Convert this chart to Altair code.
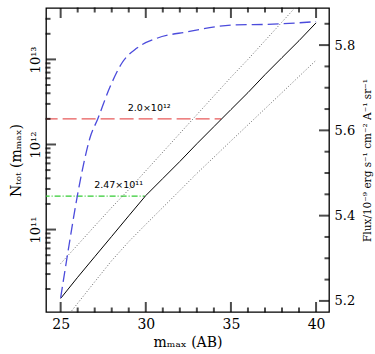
import altair as alt
import pandas as pd

# ---------------- data ----------------
x_black = [25, 26, 27, 28, 29, 30, 31, 32, 33, 34, 35, 36, 37, 38, 39, 40]
n_black = [1.55e10, 2.75e10, 4.79e10, 8.32e10, 1.45e11, 2.51e11, 3.98e11, 6.31e11,
           1.02e12, 1.62e12, 2.57e12, 4.07e12, 6.61e12, 1.05e13, 1.66e13, 2.69e13]

x_upper = [25, 26, 27, 28, 29, 30, 31, 32, 33, 34, 35, 36, 37, 38, 39]
n_upper = [3.98e10, 6.61e10, 1.10e11, 1.82e11, 2.95e11, 4.90e11, 8.13e11, 1.35e12,
           2.24e12, 3.72e12, 6.17e12, 1.00e13, 1.66e13, 2.75e13, 4.57e13]

x_lower = [25, 26, 27, 28, 29, 30, 31, 32, 33, 34, 35, 36, 37, 38, 39, 40]
n_lower = [7.6e9, 1.36e10, 2.43e10, 4.32e10, 7.21e10, 1.15e11, 1.82e11, 2.88e11,
           4.57e11, 7.08e11, 1.10e12, 1.70e12, 2.63e12, 4.07e12, 6.31e12, 9.77e12]

x_red = [24.0, 34.43]
n_red = [2.0e12, 2.0e12]
x_green = [24.0, 29.94]
n_green = [2.47e11, 2.47e11]

x_flux = [25.0, 25.49, 26.01, 26.37, 26.72, 27.19, 27.89, 28.60, 29.48, 30.65,
          32.42, 35.12, 37.47, 40.0]
flux = [5.207, 5.330, 5.453, 5.525, 5.582, 5.628, 5.701, 5.758, 5.793, 5.816,
        5.831, 5.847, 5.849, 5.855]

label_text = ["2.0×10¹²", "2.47×10¹¹"]
label_x = [30.2, 28.4]
label_n = [2.7e12, 3.3e11]

x_major = [25, 30, 35, 40]
x_minor = [26, 27, 28, 29, 31, 32, 33, 34, 36, 37, 38, 39]
n_major = [1e11, 1e12, 1e13]
n_minor = [2e10, 3e10, 4e10, 5e10, 6e10, 7e10, 8e10, 9e10,
           2e11, 3e11, 4e11, 5e11, 6e11, 7e11, 8e11, 9e11,
           2e12, 3e12, 4e12, 5e12, 6e12, 7e12, 8e12, 9e12,
           2e13, 3e13]
f_major = [5.2, 5.4, 5.6, 5.8]
f_minor = [5.25, 5.3, 5.35, 5.45, 5.5, 5.55, 5.65, 5.7, 5.75, 5.85]

X_DOM = [24.14, 40.76]
N_DOM = [1.074e10, 4.02e13]
F_DOM = [5.174, 5.887]

W, H = 283, 304
FONT = "DejaVu Serif"
BIG = 10
SMALL = 5

df_black = pd.DataFrame({"x": x_black, "n": n_black})
df_upper = pd.DataFrame({"x": x_upper, "n": n_upper})
df_lower = pd.DataFrame({"x": x_lower, "n": n_lower})
df_red = pd.DataFrame({"x": x_red, "n": n_red})
df_green = pd.DataFrame({"x": x_green, "n": n_green})
df_flux = pd.DataFrame({"x": x_flux, "f": flux})
df_lab = pd.DataFrame({"x": label_x, "n": label_n, "t": label_text})

x_scale = alt.Scale(domain=X_DOM, nice=False, zero=False)
n_scale = alt.Scale(type="log", domain=N_DOM, nice=False)
f_scale = alt.Scale(domain=F_DOM, nice=False, zero=False)

ax_common = dict(domain=False, grid=False, ticks=False)

x_main = alt.X("x:Q", scale=x_scale, axis=alt.Axis(
    orient="bottom", values=x_major, labelPadding=5,
    labelFont=FONT, labelFontSize=14, labelColor="black",
    title="mₘₐₓ (AB)", titleFont=FONT, titleFontSize=14, titleFontWeight="normal",
    titleColor="black", titlePadding=4, **ax_common))
y_main = alt.Y("n:Q", scale=n_scale, axis=alt.Axis(
    orient="left", values=n_major, labelPadding=4,
    labelExpr="datum.value > 9e12 ? '10¹³' : (datum.value > 9e11 ? '10¹²' : '10¹¹')",
    labelAngle=270, labelAlign="center", labelBaseline="bottom",
    labelFont=FONT, labelFontSize=13, labelColor="black",
    title="Nₜₒₜ (mₘₐₓ)", titleFont=FONT, titleFontSize=14, titleFontWeight="normal",
    titleColor="black", titlePadding=6, **ax_common))
x_plain = alt.X("x:Q", scale=x_scale, axis=None)
y_flux = alt.Y("f:Q", scale=f_scale, axis=alt.Axis(
    orient="right", values=f_major, labelPadding=5,
    format=".1f", labelFont=FONT, labelFontSize=13, labelColor="black",
    title="Flux/10⁻⁹ erg s⁻¹ cm⁻² A⁻¹ sr⁻¹", titleAngle=270, titleBaseline="top",
    titleFont=FONT, titleFontSize=10.5, titleFontWeight="normal", titleColor="black",
    titlePadding=8, **ax_common))
y_flux_plain = alt.Y("f:Q", scale=f_scale, axis=None)

clip = True
black = alt.Chart(df_black).mark_line(color="black", strokeWidth=1, clip=clip).encode(x=x_main, y=y_main)
upper = alt.Chart(df_upper).mark_line(color="#555555", strokeWidth=0.9, strokeDash=[1, 2], clip=clip).encode(x=x_main, y=y_main)
lower = alt.Chart(df_lower).mark_line(color="#555555", strokeWidth=0.9, strokeDash=[1, 2], clip=clip).encode(x=x_main, y=y_main)
red = alt.Chart(df_red).mark_line(color="#e85a5a", strokeWidth=1.3, strokeDash=[14, 5], clip=clip).encode(x=x_main, y=y_main)
green = alt.Chart(df_green).mark_line(color="#33cc33", strokeWidth=1.2, strokeDash=[6, 2, 1, 2], clip=clip).encode(x=x_main, y=y_main)
labels = alt.Chart(df_lab).mark_text(font="DejaVu Sans", fontSize=9.5, color="black", align="center").encode(
    x=x_main, y=y_main, text="t:N")

# inward tick marks on all four sides, placed through the scales
tk = dict(color="black", thickness=2)


def vticks(values, size, side):
    top = side.startswith("top")
    d = pd.DataFrame({"x": values, "side": [side] * len(values)})
    return alt.Chart(d).mark_tick(size=size, orient="vertical", **tk).encode(
        x=x_main, y=alt.value(size // 2 if top else H - size // 2))


def hticks(values, size, field, yenc, side):
    left = side.startswith("left")
    d = pd.DataFrame({field: values, "side": [side] * len(values)})
    return alt.Chart(d).mark_tick(size=size, orient="horizontal", **tk).encode(
        y=yenc, x=alt.value(size // 2 if left else W - size // 2))


n_group = alt.layer(
    green, red, upper, lower, black, labels,
    vticks(x_major, BIG, "bottom-major"), vticks(x_minor, SMALL, "bottom-minor"),
    vticks(x_major, BIG, "top-major"), vticks(x_minor, SMALL, "top-minor"),
    hticks(n_major, BIG, "n", y_main, "left-major"),
    hticks(n_minor, SMALL, "n", y_main, "left-minor"),
)

f_line = alt.Chart(df_flux).mark_line(color="#4b4bdc", strokeWidth=1.3, strokeDash=[11, 5],
                                      interpolate="monotone", clip=clip).encode(
    x=x_plain, y=y_flux)
rt_major = hticks(f_major, BIG, "f", y_flux_plain, "right-major")
rt_minor = hticks(f_minor, SMALL, "f", y_flux_plain, "right-minor")

chart = alt.layer(n_group, f_line, rt_major, rt_minor).resolve_scale(
    y="independent").resolve_axis(x="independent", y="independent").properties(
    width=W, height=H,
    padding={"left": 46, "top": 8, "right": 46, "bottom": 42},
    autosize="none",
    background="white",
).configure_view(stroke="black", strokeWidth=1.3)

chart.save("out.html", embed_options={"renderer": "svg", "actions": False})
